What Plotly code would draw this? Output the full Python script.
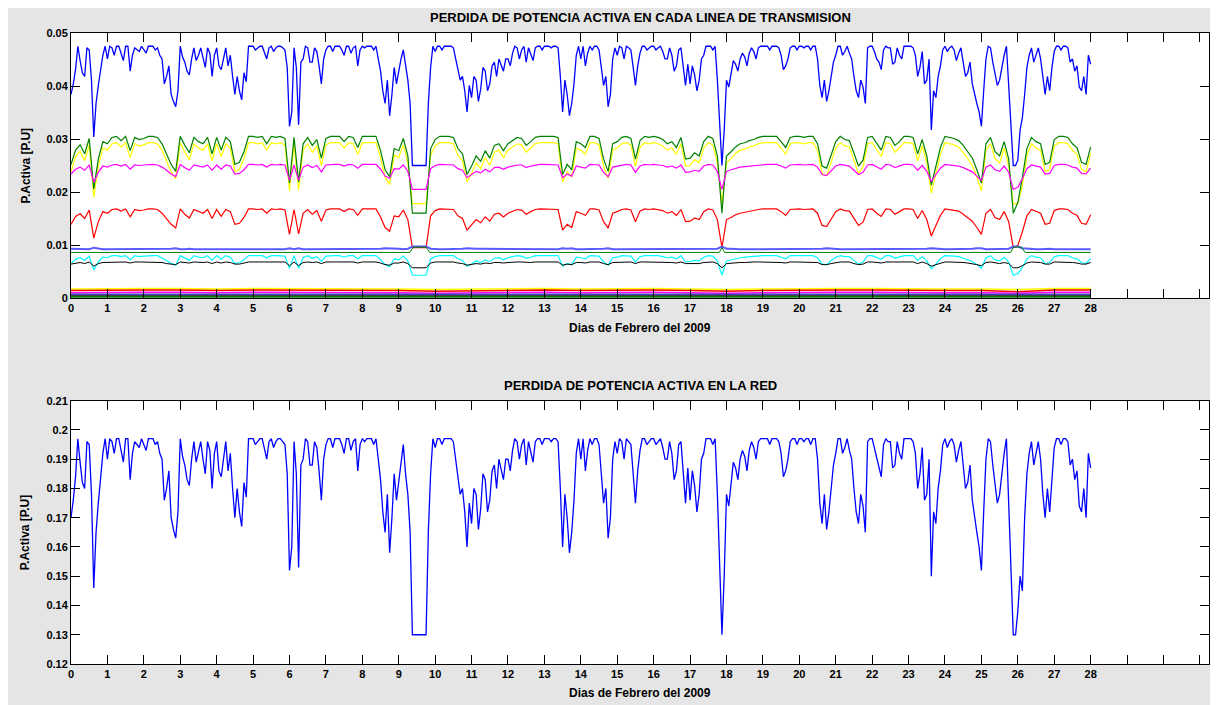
import plotly.graph_objects as go

# readings every 3 hours, 8 per day, days 0..28
# network total loss, in 1e-3 p.u.
TOTAL_LOSS = [
    170, 184, 189, 180, 195, 146, 175, 192,
    190, 196, 197, 193, 197, 183, 196, 194,
    195, 197, 197, 196, 190, 180, 170, 163,
    197, 188, 181, 196, 192, 190, 196, 180,
    196, 184, 196, 192, 170, 172, 182, 197,
    197, 196, 197, 190, 197, 196, 197, 195,
    152, 196, 153, 190, 196, 188, 194, 176,
    195, 197, 197, 197, 192, 197, 196, 186,
    197, 197, 197, 197, 183, 165, 158, 185,
    183, 195, 178, 130, 130, 130, 130, 185,
    194, 197, 197, 197, 196, 185, 180, 160,
    168, 178, 173, 183, 176, 188, 190, 183,
    190, 193, 196, 195, 188, 192, 196, 197,
    197, 197, 197, 196, 160, 170, 165, 192,
    190, 186, 197, 197, 195, 175, 163, 190,
    192, 196, 197, 195, 175, 193, 197, 196,
    197, 196, 194, 190, 192, 186, 196, 175,
    176, 181, 178, 192, 197, 195, 178, 130,
    178, 182, 187, 190, 191, 193, 194, 196,
    197, 197, 197, 197, 192, 186, 196, 197,
    197, 196, 197, 197, 190, 168, 166, 180,
    192, 197, 194, 193, 180, 168, 174, 196,
    197, 190, 184, 197, 196, 188, 192, 197,
    197, 196, 180, 194, 178, 150, 168, 186,
    197, 196, 195, 193, 188, 182, 176, 165,
    152, 190, 196, 182, 178, 192, 175, 130,
    138, 145, 185, 196, 192, 190, 170, 172,
    194, 197, 197, 196, 190, 186, 172, 170,
    187,
]
# readings half-way between the ones above (1.5 h later), 1e-3 p.u.
TOTAL_LOSS_HALF = [
    176, 197, 182, 196, 178, 165, 183, 197,
    197, 192, 197, 189, 197, 192, 195, 197,
    193, 197, 195, 192, 176, 186, 166, 172,
    191, 183, 190, 189, 196, 185, 193, 192,
    186, 191, 186, 180, 180, 167, 177, 197,
    195, 197, 193, 196, 194, 197, 196, 185,
    160, 185, 188, 197, 188, 196, 186, 190,
    197, 194, 197, 195, 197, 193, 197, 195,
    196, 197, 195, 190, 172, 178, 170, 176,
    190, 185, 165, 130, 130, 130, 165, 197,
    197, 195, 197, 197, 190, 178, 172, 175,
    180, 166, 185, 172, 186, 180, 186, 190,
    186, 197, 190, 197, 196, 189, 197, 195,
    197, 196, 197, 180, 178, 158, 176, 197,
    197, 193, 195, 197, 185, 180, 170, 196,
    197, 190, 196, 185, 186, 197, 195, 197,
    195, 197, 190, 196, 183, 195, 186, 187,
    186, 172, 190, 197, 197, 197, 150, 150,
    174, 189, 183, 193, 186, 196, 190, 197,
    197, 195, 197, 196, 184, 190, 197, 195,
    197, 197, 195, 197, 175, 178, 172, 188,
    197, 192, 197, 190, 172, 178, 165, 197,
    194, 188, 195, 196, 187, 196, 190, 197,
    197, 192, 185, 176, 190, 172, 180, 195,
    194, 197, 189, 196, 180, 188, 170, 160,
    172, 197, 188, 175, 186, 197, 155, 130,
    150, 170, 192, 188, 196, 178, 180, 185,
    197, 195, 197, 188, 183, 174, 180, 192,
]

# per-line losses, in 1e-4 p.u.
LINE_BLUE = [
    384, 431, 448, 418, 468, 304, 401, 458,
    451, 472, 475, 462, 475, 428, 472, 465,
    468, 475, 475, 472, 451, 418, 384, 361,
    475, 445, 421, 472, 458, 451, 472, 418,
    472, 431, 472, 458, 384, 391, 425, 475,
    475, 472, 475, 451, 475, 472, 475, 468,
    324, 472, 327, 451, 472, 445, 465, 404,
    468, 475, 475, 475, 458, 475, 472, 438,
    475, 475, 475, 475, 428, 367, 344, 435,
    428, 468, 411, 250, 250, 250, 250, 435,
    465, 475, 475, 475, 472, 435, 418, 351,
    378, 411, 394, 428, 404, 445, 451, 428,
    451, 462, 472, 468, 445, 458, 472, 475,
    475, 475, 475, 472, 351, 384, 367, 458,
    451, 438, 475, 475, 468, 401, 361, 451,
    458, 472, 475, 468, 401, 462, 475, 472,
    475, 472, 465, 451, 458, 438, 472, 401,
    404, 421, 411, 458, 475, 468, 411, 250,
    411, 425, 441, 451, 455, 462, 465, 472,
    475, 475, 475, 475, 458, 438, 472, 475,
    475, 472, 475, 475, 451, 378, 371, 418,
    458, 475, 465, 462, 418, 378, 398, 472,
    475, 451, 431, 475, 472, 445, 458, 475,
    475, 472, 418, 465, 411, 317, 378, 438,
    475, 472, 468, 462, 445, 425, 404, 367,
    324, 451, 472, 425, 411, 458, 401, 250,
    260, 340, 435, 472, 458, 451, 384, 391,
    465, 475, 475, 472, 451, 438, 391, 384,
    441,
]
LINE_BLUE_HALF = [
    404, 475, 425, 472, 411, 367, 428, 475,
    475, 458, 475, 448, 475, 458, 468, 475,
    462, 475, 468, 458, 404, 438, 371, 391,
    455, 428, 451, 448, 472, 435, 462, 458,
    438, 455, 438, 418, 418, 374, 408, 475,
    468, 475, 462, 472, 465, 475, 472, 435,
    351, 435, 445, 475, 445, 472, 438, 451,
    475, 465, 475, 468, 475, 462, 475, 468,
    472, 475, 468, 451, 391, 411, 384, 404,
    451, 435, 367, 250, 250, 250, 367, 475,
    475, 468, 475, 475, 451, 411, 391, 401,
    418, 371, 435, 391, 438, 418, 438, 451,
    438, 475, 451, 475, 472, 448, 475, 468,
    475, 472, 475, 418, 411, 344, 404, 475,
    475, 462, 468, 475, 435, 418, 384, 472,
    475, 451, 472, 435, 438, 475, 468, 475,
    468, 475, 451, 472, 428, 468, 438, 441,
    438, 391, 451, 475, 475, 475, 317, 317,
    398, 448, 428, 462, 438, 472, 451, 475,
    475, 468, 475, 472, 431, 451, 475, 468,
    475, 475, 468, 475, 401, 411, 391, 445,
    475, 458, 475, 451, 391, 411, 367, 475,
    465, 445, 468, 472, 441, 472, 451, 475,
    475, 458, 435, 404, 451, 391, 418, 468,
    465, 475, 448, 472, 418, 445, 384, 351,
    391, 475, 445, 401, 438, 475, 334, 250,
    317, 384, 458, 445, 472, 411, 418, 435,
    475, 468, 475, 445, 428, 398, 418, 458,
]

LINE_GREEN = [
    252, 279, 289, 272, 301, 206, 262, 295,
    291, 303, 305, 297, 305, 278, 303, 299,
    301, 305, 305, 303, 291, 272, 252, 239,
    305, 288, 274, 303, 295, 291, 303, 272,
    303, 279, 303, 295, 252, 256, 276, 305,
    305, 303, 305, 291, 305, 303, 305, 301,
    217, 303, 219, 291, 303, 288, 299, 264,
    301, 305, 305, 305, 295, 305, 303, 284,
    305, 305, 305, 305, 278, 242, 229, 282,
    278, 301, 268, 160, 160, 160, 160, 282,
    299, 305, 305, 305, 303, 282, 272, 233,
    249, 268, 258, 278, 264, 288, 291, 278,
    291, 297, 303, 301, 288, 295, 303, 305,
    305, 305, 305, 303, 233, 252, 242, 295,
    291, 284, 305, 305, 301, 262, 239, 291,
    295, 303, 305, 301, 262, 297, 305, 303,
    305, 303, 299, 291, 295, 284, 303, 262,
    264, 274, 268, 295, 305, 301, 268, 160,
    268, 276, 285, 291, 293, 297, 299, 303,
    305, 305, 305, 305, 295, 284, 303, 305,
    305, 303, 305, 305, 291, 249, 245, 272,
    295, 305, 299, 297, 272, 249, 260, 303,
    305, 291, 279, 305, 303, 288, 295, 305,
    305, 303, 272, 299, 268, 213, 249, 284,
    305, 303, 301, 297, 288, 276, 264, 242,
    217, 291, 303, 276, 268, 295, 262, 160,
    180, 227, 282, 303, 295, 291, 252, 256,
    299, 305, 305, 303, 291, 284, 256, 252,
    285,
]

LINE_YELLOW = [
    238, 267, 277, 259, 289, 190, 249, 283,
    279, 291, 293, 285, 293, 265, 291, 287,
    289, 293, 293, 291, 279, 259, 238, 225,
    293, 275, 261, 291, 283, 279, 291, 259,
    291, 267, 291, 283, 238, 243, 263, 293,
    293, 291, 293, 279, 293, 291, 293, 289,
    202, 291, 204, 279, 291, 275, 287, 250,
    289, 293, 293, 293, 283, 293, 291, 271,
    293, 293, 293, 293, 265, 228, 214, 269,
    265, 289, 255, 178, 178, 178, 178, 269,
    287, 293, 293, 293, 291, 269, 259, 219,
    235, 255, 244, 265, 250, 275, 279, 265,
    279, 285, 291, 289, 275, 283, 291, 293,
    293, 293, 293, 291, 219, 238, 228, 283,
    279, 271, 293, 293, 289, 249, 225, 279,
    283, 291, 293, 289, 249, 285, 293, 291,
    293, 291, 287, 279, 283, 271, 291, 249,
    250, 261, 255, 283, 293, 289, 255, 178,
    255, 263, 273, 279, 281, 285, 287, 291,
    293, 293, 293, 293, 283, 271, 291, 293,
    293, 291, 293, 293, 279, 235, 231, 259,
    283, 293, 287, 285, 259, 235, 247, 291,
    293, 279, 267, 293, 291, 275, 283, 293,
    293, 291, 259, 287, 255, 198, 235, 271,
    293, 291, 289, 285, 275, 263, 250, 228,
    202, 279, 291, 263, 255, 283, 249, 178,
    178, 212, 269, 291, 283, 279, 238, 243,
    287, 293, 293, 291, 279, 271, 243, 238,
    273,
]

LINE_MAGENTA = [
    234, 243, 247, 241, 251, 218, 237, 249,
    247, 251, 252, 249, 252, 243, 251, 250,
    251, 252, 252, 251, 247, 241, 234, 229,
    252, 246, 241, 251, 249, 247, 251, 241,
    251, 243, 251, 249, 234, 235, 242, 252,
    252, 251, 252, 247, 252, 251, 252, 251,
    222, 251, 222, 247, 251, 246, 250, 238,
    251, 252, 252, 252, 249, 252, 251, 245,
    252, 252, 252, 252, 243, 230, 226, 244,
    243, 251, 239, 205, 205, 205, 205, 244,
    250, 252, 252, 252, 251, 244, 241, 227,
    233, 239, 236, 243, 238, 246, 247, 243,
    247, 249, 251, 251, 246, 249, 251, 252,
    252, 252, 252, 251, 227, 234, 230, 249,
    247, 245, 252, 252, 251, 237, 229, 247,
    249, 251, 252, 251, 237, 249, 252, 251,
    252, 251, 250, 247, 249, 245, 251, 237,
    238, 241, 239, 249, 252, 251, 239, 205,
    239, 242, 245, 247, 248, 249, 250, 251,
    252, 252, 252, 252, 249, 245, 251, 252,
    252, 251, 252, 252, 247, 233, 231, 241,
    249, 252, 250, 249, 241, 233, 237, 251,
    252, 247, 243, 252, 251, 246, 249, 252,
    252, 251, 241, 250, 239, 220, 233, 245,
    252, 251, 251, 249, 246, 242, 238, 230,
    222, 247, 251, 242, 239, 249, 237, 205,
    209, 225, 244, 251, 249, 247, 234, 235,
    250, 252, 252, 251, 247, 245, 235, 234,
    245,
]

LINE_RED = [
    139, 154, 159, 150, 166, 113, 144, 163,
    160, 167, 168, 164, 168, 153, 167, 165,
    166, 168, 168, 167, 160, 150, 139, 132,
    168, 158, 151, 167, 163, 160, 167, 150,
    167, 154, 167, 163, 139, 141, 152, 168,
    168, 167, 168, 160, 168, 167, 168, 166,
    120, 167, 121, 160, 167, 158, 165, 145,
    166, 168, 168, 168, 163, 168, 167, 156,
    168, 168, 168, 168, 153, 133, 126, 155,
    153, 166, 148, 95, 95, 95, 95, 155,
    165, 168, 168, 168, 167, 155, 150, 128,
    137, 148, 142, 153, 145, 158, 160, 153,
    160, 164, 167, 166, 158, 163, 167, 168,
    168, 168, 168, 167, 128, 139, 133, 163,
    160, 156, 168, 168, 166, 144, 132, 160,
    163, 167, 168, 166, 144, 164, 168, 167,
    168, 167, 165, 160, 163, 156, 167, 144,
    145, 151, 148, 163, 168, 166, 148, 95,
    148, 152, 157, 160, 162, 164, 165, 167,
    168, 168, 168, 168, 163, 156, 167, 168,
    168, 167, 168, 168, 160, 137, 135, 150,
    163, 168, 165, 164, 150, 137, 143, 167,
    168, 160, 154, 168, 167, 158, 163, 168,
    168, 167, 150, 165, 148, 117, 137, 156,
    168, 167, 166, 164, 158, 152, 145, 133,
    120, 160, 167, 152, 148, 163, 144, 95,
    99, 125, 155, 167, 163, 160, 139, 141,
    165, 168, 168, 167, 160, 156, 141, 139,
    157,
]

LINE_CYAN = [
    65, 73, 76, 71, 79, 53, 68, 77,
    76, 80, 80, 78, 80, 72, 80, 78,
    79, 80, 80, 80, 76, 71, 65, 62,
    80, 75, 71, 80, 77, 76, 80, 71,
    80, 73, 80, 77, 65, 67, 72, 80,
    80, 80, 80, 76, 80, 80, 80, 79,
    56, 80, 56, 76, 80, 75, 78, 69,
    79, 80, 80, 80, 77, 80, 80, 74,
    80, 80, 80, 80, 72, 63, 59, 74,
    72, 79, 70, 43, 43, 43, 43, 74,
    78, 80, 80, 80, 80, 74, 71, 60,
    64, 70, 67, 72, 69, 75, 76, 72,
    76, 78, 80, 79, 75, 77, 80, 80,
    80, 80, 80, 80, 60, 65, 63, 77,
    76, 74, 80, 80, 79, 68, 62, 76,
    77, 80, 80, 79, 68, 78, 80, 80,
    80, 80, 78, 76, 77, 74, 80, 68,
    69, 71, 70, 77, 80, 79, 70, 43,
    70, 72, 75, 76, 77, 78, 78, 80,
    80, 80, 80, 80, 77, 74, 80, 80,
    80, 80, 80, 80, 76, 64, 63, 71,
    77, 80, 78, 78, 71, 64, 68, 80,
    80, 76, 73, 80, 80, 75, 77, 80,
    80, 80, 71, 78, 70, 55, 64, 74,
    80, 80, 79, 78, 75, 72, 69, 63,
    56, 76, 80, 72, 70, 77, 68, 43,
    46, 58, 74, 80, 77, 76, 65, 67,
    78, 80, 80, 80, 76, 74, 67, 65,
    75,
]

LINE_NAVY = [
    93, 93, 92, 93, 92, 95, 93, 92,
    92, 92, 92, 92, 92, 93, 92, 92,
    92, 92, 92, 92, 92, 93, 93, 94,
    92, 92, 93, 92, 92, 92, 92, 93,
    92, 93, 92, 92, 93, 93, 93, 92,
    92, 92, 92, 92, 92, 92, 92, 92,
    94, 92, 94, 92, 92, 92, 92, 93,
    92, 92, 92, 92, 92, 92, 92, 92,
    92, 92, 92, 92, 93, 94, 94, 93,
    93, 92, 93, 97, 97, 97, 97, 93,
    92, 92, 92, 92, 92, 93, 93, 94,
    93, 93, 93, 93, 93, 92, 92, 93,
    92, 92, 92, 92, 92, 92, 92, 92,
    92, 92, 92, 92, 94, 93, 94, 92,
    92, 92, 92, 92, 92, 93, 94, 92,
    92, 92, 92, 92, 93, 92, 92, 92,
    92, 92, 92, 92, 92, 92, 92, 93,
    93, 93, 93, 92, 92, 92, 93, 97,
    93, 93, 92, 92, 92, 92, 92, 92,
    92, 92, 92, 92, 92, 92, 92, 92,
    92, 92, 92, 92, 92, 93, 94, 93,
    92, 92, 92, 92, 93, 93, 93, 92,
    92, 92, 92, 92, 92, 92, 92, 92,
    92, 92, 93, 92, 93, 94, 93, 92,
    92, 92, 92, 92, 92, 93, 93, 94,
    94, 92, 92, 93, 93, 92, 93, 97,
    97, 94, 93, 92, 92, 92, 93, 93,
    92, 92, 92, 92, 92, 92, 93, 93,
    92,
]

LINE_BLACK = [
    64, 66, 67, 65, 68, 60, 65, 67,
    67, 68, 68, 68, 68, 66, 68, 68,
    68, 68, 68, 68, 67, 65, 64, 63,
    68, 67, 66, 68, 67, 67, 68, 65,
    68, 66, 68, 67, 64, 64, 66, 68,
    68, 68, 68, 67, 68, 68, 68, 68,
    61, 68, 61, 67, 68, 67, 68, 65,
    68, 68, 68, 68, 67, 68, 68, 66,
    68, 68, 68, 68, 66, 63, 62, 66,
    66, 68, 65, 57, 57, 57, 57, 66,
    68, 68, 68, 68, 68, 66, 65, 62,
    63, 65, 64, 66, 65, 67, 67, 66,
    67, 68, 68, 68, 67, 67, 68, 68,
    68, 68, 68, 68, 62, 64, 63, 67,
    67, 66, 68, 68, 68, 65, 63, 67,
    67, 68, 68, 68, 65, 68, 68, 68,
    68, 68, 68, 67, 67, 66, 68, 65,
    65, 66, 65, 67, 68, 68, 65, 57,
    65, 66, 67, 67, 67, 68, 68, 68,
    68, 68, 68, 68, 67, 66, 68, 68,
    68, 68, 68, 68, 67, 63, 63, 65,
    67, 68, 68, 68, 65, 63, 64, 68,
    68, 67, 66, 68, 68, 67, 67, 68,
    68, 68, 65, 68, 65, 60, 63, 66,
    68, 68, 68, 68, 67, 66, 65, 63,
    61, 67, 68, 66, 65, 67, 65, 57,
    57, 61, 66, 68, 67, 67, 64, 64,
    68, 68, 68, 68, 67, 66, 64, 64,
    67,
]

# thin green line just under the blue one, breakpoints
GREEN2_DAYS = [0, 9.3, 9.4, 9.75, 9.85, 17.8, 17.88, 17.95, 25.8, 25.88, 26.1, 26.2, 28]
GREEN2 = [86, 86, 96, 96, 86, 86, 95, 86, 86, 96, 96, 86, 86]

# small lines near zero, one value per day
LOW_YELLOW = [17, 18, 18, 18, 17, 18, 18, 18, 18, 17, 16, 17, 18, 18, 17,
              18, 18, 17, 16, 17, 18, 18, 18, 17, 17, 17, 16, 18, 18]
LOW_RED = [14, 15, 15, 15, 14, 15, 15, 15, 15, 14, 13, 14, 15, 15, 14,
           15, 15, 14, 13, 14, 15, 15, 15, 14, 14, 14, 12, 15, 15]
LOW_MAGENTA = [10, 11, 11, 11, 10, 11, 11, 11, 11, 10, 9, 10, 11, 11, 10,
               11, 11, 10, 9, 10, 11, 11, 11, 10, 10, 10, 9, 11, 11]
LOW_FLAT_DAYS = [0, 28]
LOW_NAVY = [7, 7]
LOW_BLACK = [4, 4]
LOW_GREEN = [2, 2]

DAY_TICKS = list(range(32))
DAY_LABELS = [str(d) if d <= 28 else "" for d in DAY_TICKS]

FONT = "Arial, Liberation Sans, sans-serif"


def to_pu(values, unit):
    return [v * unit for v in values]


def interleave(samples, halves):
    # samples every 3 h plus the readings taken 1.5 h after each of them
    xs, ys = [], []
    for i, (a, b) in enumerate(zip(samples[:-1], halves)):
        xs += [i / 8, i / 8 + 1 / 16]
        ys += [a, b]
    xs.append((len(samples) - 1) / 8)
    ys.append(samples[-1])
    return xs, ys


def make_figure():
    t3 = [i / 8 for i in range(len(TOTAL_LOSS))]
    days = list(range(len(LOW_YELLOW)))

    fig = go.Figure()

    bx, by = interleave(LINE_BLUE, LINE_BLUE_HALF)
    fig.add_trace(go.Scatter(x=bx, y=to_pu(by, 1e-4), mode="lines",
                             line=dict(color="#0000ff", width=1.3),
                             xaxis="x", yaxis="y", showlegend=False))

    top = [
        (LINE_YELLOW, "#ffff00", 1.2),
        (LINE_GREEN, "#008000", 1.2),
        (LINE_MAGENTA, "#ff00ff", 1.2),
        (LINE_RED, "#ff0000", 1.2),
        (LINE_CYAN, "#00ffff", 1.2),
        (LINE_NAVY, "#5a5aff", 2.0),
        (LINE_BLACK, "#000000", 1.0),
    ]
    for vals, color, w in top:
        fig.add_trace(go.Scatter(x=t3, y=to_pu(vals, 1e-4), mode="lines",
                                 line=dict(color=color, width=w),
                                 xaxis="x", yaxis="y", showlegend=False))

    fig.add_trace(go.Scatter(x=GREEN2_DAYS, y=to_pu(GREEN2, 1e-4), mode="lines",
                             line=dict(color="#008000", width=1),
                             xaxis="x", yaxis="y", showlegend=False))

    for vals, color in [(LOW_YELLOW, "#ffff00"), (LOW_RED, "#ff0000"), (LOW_MAGENTA, "#ff00ff")]:
        fig.add_trace(go.Scatter(x=days, y=to_pu(vals, 1e-4), mode="lines",
                                 line=dict(color=color, width=1.5),
                                 xaxis="x", yaxis="y", showlegend=False))
    for vals, color in [(LOW_NAVY, "#4040c0"), (LOW_BLACK, "#000000"), (LOW_GREEN, "#008000")]:
        fig.add_trace(go.Scatter(x=LOW_FLAT_DAYS, y=to_pu(vals, 1e-4), mode="lines",
                                 line=dict(color=color, width=1.5),
                                 xaxis="x", yaxis="y", showlegend=False))

    tx, ty = interleave(TOTAL_LOSS, TOTAL_LOSS_HALF)
    fig.add_trace(go.Scatter(x=tx, y=to_pu(ty, 1e-3), mode="lines",
                             line=dict(color="#0000ff", width=1.3),
                             xaxis="x2", yaxis="y2", showlegend=False))

    tickfont = dict(family=FONT, size=11, color="#000000", weight="bold")
    xaxis = dict(range=[0, 31.25], tickvals=DAY_TICKS, ticktext=DAY_LABELS,
                 ticks="inside", ticklen=9, tickcolor="#000000", mirror="ticks",
                 showline=True, linecolor="#000000", linewidth=1,
                 showgrid=False, zeroline=False, tickfont=tickfont)
    yaxis = dict(ticks="inside", ticklen=9, tickcolor="#000000", mirror="ticks",
                 showline=True, linecolor="#000000", showgrid=False, zeroline=False,
                 tickfont=tickfont)

    def label(text, x, y, size, angle=0):
        return dict(text=text, x=x, y=y, xref="paper", yref="paper",
                    xanchor="center", yanchor="middle", textangle=angle,
                    showarrow=False,
                    font=dict(family=FONT, size=size, color="#000000", weight="bold"))

    # the page body adds 8 px at the top and left, so the figure is 8 px smaller
    fig.update_layout(
        width=1210,
        height=697,
        paper_bgcolor="#e5e5e5",
        plot_bgcolor="#ffffff",
        margin=dict(l=63, r=9, t=25, b=41),
        xaxis=dict(xaxis, domain=[0, 1], anchor="y"),
        yaxis=dict(yaxis, range=[0, 0.05], tickvals=[0, 0.01, 0.02, 0.03, 0.04, 0.05],
                   ticktext=["0", "0.01", "0.02", "0.03", "0.04", "0.05"],
                   domain=[0.58, 1.0], anchor="x"),
        xaxis2=dict(xaxis, domain=[0, 1], anchor="y2"),
        yaxis2=dict(yaxis, range=[0.12, 0.21], dtick=0.01, tick0=0.12,
                    domain=[0.0, 0.4173], anchor="x2"),
        annotations=[
            label("PERDIDA DE POTENCIA ACTIVA EN CADA LINEA DE TRANSMISION", 0.5, 1.0238, 13),
            label("PERDIDA DE POTENCIA ACTIVA EN LA RED", 0.5, 0.442, 13),
            label("Dias de Febrero del 2009", 0.5, 0.5325, 12),
            label("Dias de Febrero del 2009", 0.5, -0.046, 12),
            label("P.Activa [P.U]", -0.0404, 0.79, 12, -90),
            label("P.Activa [P.U]", -0.0404, 0.2087, 12, -90),
        ],
    )
    return fig


fig = make_figure()
fig.write_html("out.html")
